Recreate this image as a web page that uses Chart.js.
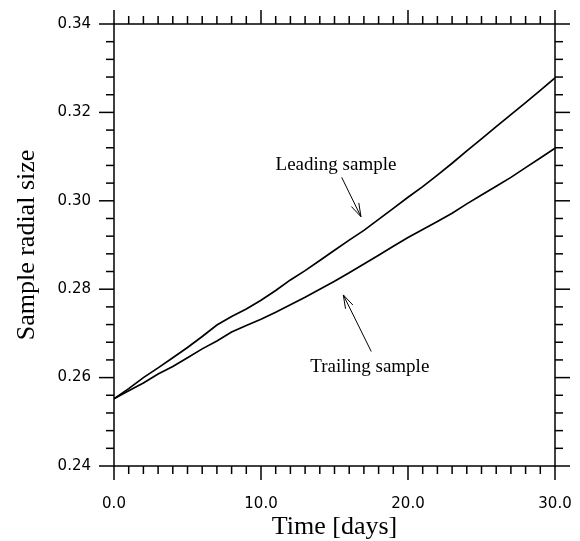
<!DOCTYPE html>
<html>
<head>
<meta charset="utf-8">
<script src="https://cdn.jsdelivr.net/npm/chart.js@4/dist/chart.umd.min.js"></script>
<style>
  html, body { margin: 0; padding: 0; background: #fff; }
  #wrap { width: 580px; height: 541px; }
</style>
</head>
<body>
<div id="wrap"><canvas id="radial"></canvas></div>
<script>
// time in days
var days = [0, 1, 2, 3, 4, 5, 6, 7, 8, 9, 10, 11, 12, 13, 14, 15, 16, 17, 18, 19, 20,
            21, 22, 23, 24, 25, 26, 27, 28, 29, 30];
var leading = [0.2552, 0.2575, 0.2600, 0.2622, 0.2645, 0.2668, 0.2693, 0.2719, 0.2738, 0.2755, 0.2775,
               0.2797, 0.2821, 0.2842, 0.2865, 0.2888, 0.2911, 0.2933, 0.2958, 0.2983, 0.3008,
               0.3032, 0.3058, 0.3085, 0.3113, 0.3140, 0.3168, 0.3195, 0.3222, 0.3250, 0.3278];
var trailing = [0.2552, 0.2570, 0.2588, 0.2608, 0.2625, 0.2645, 0.2665, 0.2683, 0.2703, 0.2718, 0.2732,
                0.2748, 0.2765, 0.2782, 0.2800, 0.2818, 0.2837, 0.2857, 0.2877, 0.2897, 0.2917,
                0.2935, 0.2953, 0.2972, 0.2993, 0.3013, 0.3033, 0.3053, 0.3075, 0.3097, 0.3119];
var xTicks = [0, 10, 20, 30];
var yTicks = [0.24, 0.26, 0.28, 0.30, 0.32, 0.34];
var xMinorPerMajor = 10;
var yMinorPerMajor = 5;

// labels + arrows, in data units [t, value]
var leadingLabel = { text: 'Leading sample', at: [15.1, 0.3070] };
var leadingArrow = [[15.49, 0.3053], [16.8, 0.2964]];
var trailingLabel = { text: 'Trailing sample', at: [17.4, 0.2613] };
var trailingArrow = [[17.5, 0.2659], [15.6, 0.2787]];

function pairs(xs, ys) {
    var out = [];
    for (var i = 0; i < xs.length; i++) out.push({ x: xs[i], y: ys[i] });
    return out;
}

function line(ctx, x1, y1, x2, y2) {
    ctx.beginPath();
    ctx.moveTo(x1, y1);
    ctx.lineTo(x2, y2);
    ctx.stroke();
}

// frame with outward ticks on all four sides
var frameTicks = {
    id: 'frameTicks',
    afterDraw: function(chart) {
        var ctx = chart.ctx, a = chart.chartArea;
        var xs = chart.scales.x, ys = chart.scales.y;
        ctx.save();
        ctx.strokeStyle = '#000';
        ctx.lineWidth = 1.5;
        ctx.strokeRect(a.left, a.top, a.right - a.left, a.bottom - a.top);
        var i, j, v, p, len;
        var xStep = (xTicks[1] - xTicks[0]) / xMinorPerMajor;
        for (i = 0; i < xTicks.length; i++) {
            for (j = 0; j < xMinorPerMajor; j++) {
                if (i == xTicks.length - 1 && j > 0) break;
                v = xTicks[i] + j * xStep;
                p = xs.getPixelForValue(v);
                len = j == 0 ? 14 : 8;
                line(ctx, p, a.bottom, p, a.bottom + len);
                line(ctx, p, a.top, p, a.top - len);
            }
        }
        var yStep = (yTicks[1] - yTicks[0]) / yMinorPerMajor;
        for (i = 0; i < yTicks.length; i++) {
            for (j = 0; j < yMinorPerMajor; j++) {
                if (i == yTicks.length - 1 && j > 0) break;
                v = yTicks[i] + j * yStep;
                p = ys.getPixelForValue(v);
                len = j == 0 ? 15 : 8;
                line(ctx, a.left, p, a.left - len, p);
                line(ctx, a.right, p, a.right + len, p);
            }
        }
        ctx.restore();
    }
};

function drawArrow(ctx, xs, ys, arr) {
    var x1 = xs.getPixelForValue(arr[0][0]), y1 = ys.getPixelForValue(arr[0][1]);
    var x2 = xs.getPixelForValue(arr[1][0]), y2 = ys.getPixelForValue(arr[1][1]);
    line(ctx, x1, y1, x2, y2);
    var ang = Math.atan2(y2 - y1, x2 - x1);
    var hl = 14, spread = 0.3;
    ctx.beginPath();
    ctx.moveTo(x2 - hl * Math.cos(ang - spread), y2 - hl * Math.sin(ang - spread));
    ctx.lineTo(x2, y2);
    ctx.lineTo(x2 - hl * Math.cos(ang + spread), y2 - hl * Math.sin(ang + spread));
    ctx.stroke();
}

var notes = {
    id: 'notes',
    afterDraw: function(chart) {
        var ctx = chart.ctx, xs = chart.scales.x, ys = chart.scales.y;
        ctx.save();
        ctx.fillStyle = '#000';
        ctx.strokeStyle = '#000';
        ctx.lineWidth = 1;
        ctx.font = '19px "Liberation Serif", "Times New Roman", serif';
        ctx.textAlign = 'center';
        ctx.textBaseline = 'alphabetic';
        [leadingLabel, trailingLabel].forEach(function(l) {
            ctx.fillText(l.text, xs.getPixelForValue(l.at[0]), ys.getPixelForValue(l.at[1]));
        });
        drawArrow(ctx, xs, ys, leadingArrow);
        drawArrow(ctx, xs, ys, trailingArrow);
        ctx.restore();
    }
};

var ctx = document.getElementById('radial');
var chart = new Chart(ctx, {
    type: 'line',
    data: {
        datasets: [
            { label: 'Leading sample', data: pairs(days, leading), borderColor: '#000', borderWidth: 1.7, pointRadius: 0, tension: 0 },
            { label: 'Trailing sample', data: pairs(days, trailing), borderColor: '#000', borderWidth: 1.7, pointRadius: 0, tension: 0 }
        ]
    },
    options: {
        responsive: true,
        maintainAspectRatio: false,
        animation: false,
        layout: { padding: { left: 0, top: 24, right: 25, bottom: 0 } },
        plugins: { legend: { display: false }, tooltip: { enabled: false } },
        scales: {
            x: {
                type: 'linear',
                min: 0, max: 30,
                grid: { display: false },
                border: { display: false },
                afterBuildTicks: function(scale) {
                    scale.ticks = xTicks.map(function(v) { return { value: v }; });
                },
                afterFit: function(scale) {
                    scale.height = 75;
                    scale.paddingLeft = 0;
                    scale.paddingRight = 0;
                },
                ticks: {
                    padding: 21,
                    color: '#000',
                    font: { family: '"DejaVu Sans", sans-serif', size: 15 },
                    callback: function(v) { return v.toFixed(1); }
                },
                title: {
                    display: true,
                    text: 'Time [days]',
                    color: '#000',
                    font: { family: '"Liberation Serif", "Times New Roman", serif', size: 26 },
                    padding: { top: 0, bottom: -2 }
                }
            },
            y: {
                min: 0.24, max: 0.34,
                grid: { display: false },
                border: { display: false },
                afterBuildTicks: function(scale) {
                    scale.ticks = yTicks.map(function(v) { return { value: v }; });
                },
                afterFit: function(scale) {
                    scale.width = 114;
                    scale.paddingTop = 0;
                    scale.paddingBottom = 0;
                },
                ticks: {
                    padding: 15,
                    color: '#000',
                    font: { family: '"DejaVu Sans", sans-serif', size: 15 },
                    callback: function(v) { return v.toFixed(2); }
                },
                title: {
                    display: true,
                    text: 'Sample radial size',
                    color: '#000',
                    font: { family: '"Liberation Serif", "Times New Roman", serif', size: 26 },
                    padding: { top: 12, bottom: 0 }
                }
            }
        }
    },
    plugins: [frameTicks, notes]
});
</script>
</body>
</html>
